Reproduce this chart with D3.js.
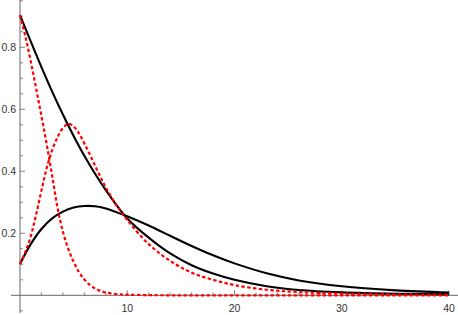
<!DOCTYPE html>
<html>
<head>
<meta charset="utf-8">
<script src="https://cdn.jsdelivr.net/npm/d3@7"></script>
<style>
body { margin: 0; background: #fff; }
svg { display: block; }
.tick-label { font-family: "Liberation Sans", Arial, sans-serif; font-size: 10.5px; fill: #333; }
</style>
</head>
<body>
<svg id="chart" width="458" height="315"></svg>
<script>
// values
const blackX = [0, 1, 2, 3, 4, 5, 6, 7, 8, 9, 10, 12, 14, 16, 18, 20, 23, 26, 30, 35, 40];
const blackA = [0.904, 0.819, 0.736, 0.657, 0.583, 0.514, 0.45, 0.392, 0.339, 0.291, 0.248, 0.186, 0.135, 0.097, 0.07, 0.05, 0.029, 0.017, 0.0095, 0.005, 0.003];
const blackB = [0.101, 0.165, 0.214, 0.248, 0.27, 0.283, 0.288, 0.287, 0.28, 0.268, 0.255, 0.225, 0.192, 0.159, 0.129, 0.103, 0.071, 0.048, 0.029, 0.016, 0.009];

const redX = [0, 0.5, 1, 1.5, 2, 2.5, 3, 3.5, 4, 4.5, 5, 5.5, 6, 6.5, 7, 7.5, 8, 9, 10, 12, 14, 16, 18, 20, 23, 26, 30, 35, 40];
const redC = [0.904, 0.835, 0.755, 0.668, 0.578, 0.485, 0.385, 0.282, 0.205, 0.15, 0.108, 0.075, 0.051, 0.034, 0.022, 0.014, 0.009, 0.004, 0.002, 0.0005, 0, 0, 0, 0, 0, 0, 0, 0, 0];
const redD = [0.101, 0.14, 0.19, 0.26, 0.338, 0.412, 0.468, 0.51, 0.539, 0.553, 0.545, 0.522, 0.49, 0.455, 0.418, 0.382, 0.348, 0.29, 0.243, 0.165, 0.111, 0.073, 0.05, 0.033, 0.018, 0.0105, 0.0055, 0.0025, 0.001];

const xMajor = [10, 20, 30, 40];
const yMajor = [0.2, 0.4, 0.6, 0.8];

const svg = d3.select("#chart");
const x = d3.scaleLinear().domain([0, 40]).range([20, 449]);
const y = d3.scaleLinear().domain([0, 0.9]).range([295.3, 16.3]);

// axes
const axisColor = "#666";
svg.append("line").attr("x1", 11).attr("x2", 458).attr("y1", y(0)).attr("y2", y(0))
    .attr("stroke", axisColor).attr("stroke-width", 1);
svg.append("line").attr("x1", x(0)).attr("x2", x(0)).attr("y1", 0).attr("y2", 313)
    .attr("stroke", axisColor).attr("stroke-width", 1);

// x ticks: minor every 2, major every 10
const xTicks = d3.range(2, 41, 2);
svg.selectAll(".xt").data(xTicks).enter().append("line")
    .attr("x1", d => x(d)).attr("x2", d => x(d))
    .attr("y1", y(0)).attr("y2", d => y(0) - (d % 10 === 0 ? 5 : 3))
    .attr("stroke", axisColor).attr("stroke-width", 0.8);
svg.selectAll(".xl").data(xMajor).enter().append("text")
    .attr("class", "tick-label")
    .attr("x", d => x(d)).attr("y", 311.5)
    .attr("text-anchor", "middle")
    .text(d => d);

// y ticks: minor every 0.05, major every 0.2
const yTicks = d3.range(-1, 20).map(i => i * 0.05).filter(d => Math.abs(d) > 1e-9);
svg.selectAll(".yt").data(yTicks).enter().append("line")
    .attr("x1", x(0)).attr("x2", d => x(0) + (Math.abs(Math.round(d * 100) % 20) === 0 ? 5 : 3))
    .attr("y1", d => y(d)).attr("y2", d => y(d))
    .attr("stroke", axisColor).attr("stroke-width", 0.8);
svg.selectAll(".yl").data(yMajor).enter().append("text")
    .attr("class", "tick-label")
    .attr("x", 16).attr("y", d => y(d) + 3.8)
    .attr("text-anchor", "end")
    .text(d => d.toFixed(1));

// curves
const line = d3.line()
    .x(d => x(d[0]))
    .y(d => y(d[1]))
    .curve(d3.curveCatmullRom.alpha(0.5));

function drawCurve(xs, ys, color, dashed){
    const path = svg.append("path")
        .datum(xs.map((v, i) => [v, ys[i]]))
        .attr("d", line)
        .attr("fill", "none")
        .attr("stroke", color)
        .attr("stroke-width", dashed ? 2.2 : 2.1);
    if(dashed) path.attr("stroke-dasharray", "3.4,2.4");
}

drawCurve(blackX, blackA, "#000", false);
drawCurve(blackX, blackB, "#000", false);
drawCurve(redX, redC, "#f00", true);
drawCurve(redX, redD, "#f00", true);
</script>
</body>
</html>
